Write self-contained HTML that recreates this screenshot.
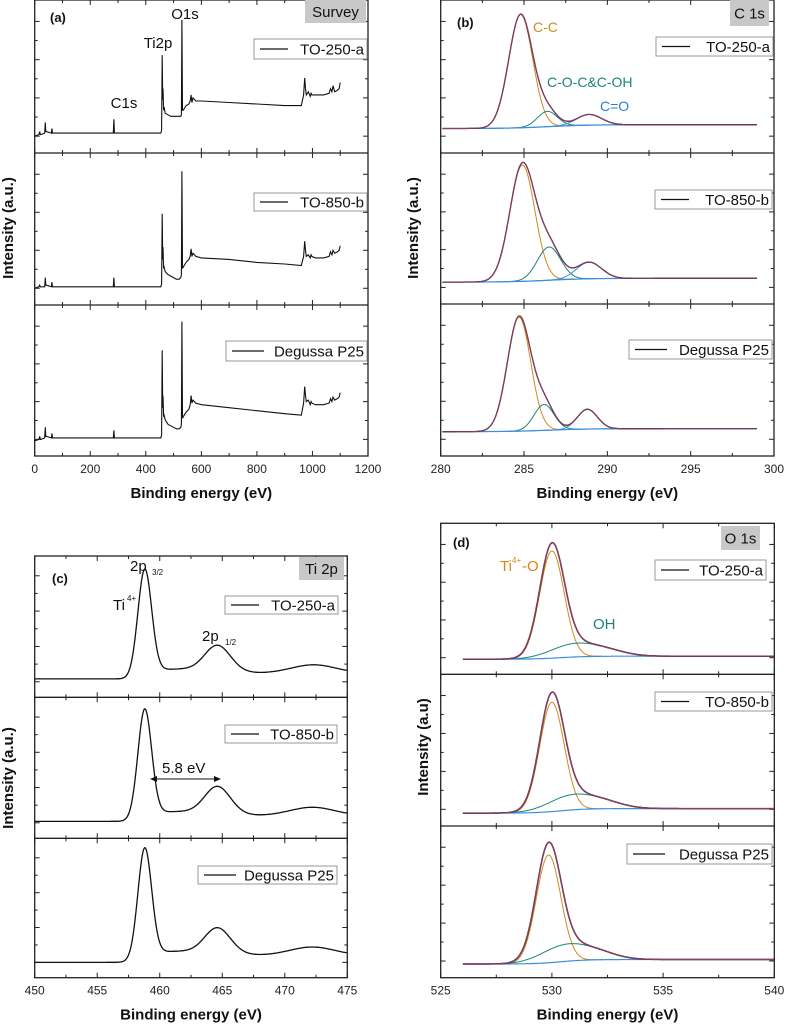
<!DOCTYPE html>
<html><head><meta charset="utf-8"><style>
html,body{margin:0;padding:0;background:#fff;}
svg{display:block;font-family:"Liberation Sans",Arial,sans-serif;}
</style></head><body>
<svg id="fig" width="785" height="1024" viewBox="0 0 785 1024" xmlns="http://www.w3.org/2000/svg"></svg>
<script>
const samples = ["TO-250-a", "TO-850-b", "Degussa P25"];

// (a) survey: energies and intensities (0-100 of sub-panel height)
const surveyE = [0,15,18,20,22,36,38,40,42,60,62,64,66,100,200,280,283,285,287,300,400,454,457,459,461,462,464,466,470,480,490,500,510,520,526,528,530,532,535,545,555,560,563,566,570,575,580,600,700,800,900,960,968,972,975,978,985,992,995,998,1010,1040,1060,1065,1070,1074,1080,1090,1096,1100];
const surveyI1 = [11,12,14,12,12,13,20,14,14,13,16,13,13,13,13,13,13,22,13,13,13,13,15,64,35,42,28,30,26,25,24,24,24,24,24,25,87,28,28,31,32,34,38,33,36,35,34,34,33,32,31,31,38,49,42,38,40,37,39,38,38,38,39,42,40,44,40,41,42,46];
const surveyI2 = [11,12,13,12,12,12,18,13,13,12,15,12,12,12,12,12,12,18,12,12,12,12,14,60,30,38,24,25,22,20,19,18,17,17,18,20,88,24,25,28,30,32,37,32,34,33,32,31,30,28,27,26,32,42,36,32,33,31,33,32,31,31,32,35,33,36,34,35,36,39];
const surveyI3 = [10,11,13,11,11,12,19,13,13,12,15,12,12,12,12,12,12,17,12,12,12,12,14,70,32,40,26,27,24,21,20,19,18,18,19,21,89,25,26,29,31,34,40,35,37,36,35,34,32,30,28,27,35,46,40,36,37,34,36,35,34,34,35,38,36,39,37,38,39,42];

// (b) C 1s fitted components per sample
const ccCenter = [284.8, 284.9, 284.7];
const ccHeight = [74, 77, 75];
const ccSigma = [0.72, 0.75, 0.7];
const coCenter = [286.4, 286.5, 286.2];
const coHeight = [10, 22, 17];
const coSigma = [0.6, 0.7, 0.6];
const c2oCenter = [288.9, 288.9, 288.8];
const c2oHeight = [7, 11, 13];
const c2oSigma = [0.75, 0.75, 0.6];
const c1sBgLeft = [16, 14.5, 16];
const c1sBgRight = [18.5, 17, 18];

// (c) Ti 2p peaks per sample
const ti32Center = [458.8, 458.8, 458.8];
const ti32Height = [75, 77, 79];
const ti12Center = [464.6, 464.6, 464.6];
const ti12Height = [17, 18, 17];
const tiSatCenter = [472.3, 472.2, 472.2];
const tiSatHeight = [6, 6, 6];
const tiBgLeft = [13, 12, 11];
const tiBgRight = [20, 19, 19];

// (d) O 1s components per sample
const tioCenter = [530.0, 530.0, 529.85];
const tioHeight = [71, 72, 71];
const ohCenter = [530.9, 530.8, 530.5];
const ohHeight = [8, 9, 10];
const o1sBgLeft = [10, 8.5, 9];
const o1sBgRight = [12, 11.5, 12];

const svg = document.getElementById('fig');
const NS = 'http://www.w3.org/2000/svg';
function mk(tag, attrs, parent){
  const e = document.createElementNS(NS, tag);
  for (const k in attrs) e.setAttribute(k, attrs[k]);
  (parent||svg).appendChild(e);
  return e;
}
function txt(s, x, y, size, opts, parent){
  const t = mk('text', Object.assign({x:x, y:y, 'font-size':size}, opts||{}), parent);
  t.textContent = s;
  return t;
}
function g(x,c,h,s){ return h*Math.exp(-(x-c)*(x-c)/(2*s*s)); }
function step(x,c,w){ return 1/(1+Math.exp(-(x-c)/w)); }

const panels = {
  a:{x0:34.7,x1:368,ys:[0,153,305,456],xmin:0,xmax:1200,major:200,minor:100,labels:[0,200,400,600,800,1000,1200]},
  b:{x0:440.7,x1:774,ys:[0,153,304,456],xmin:280,xmax:300,major:5,minor:2.5,labels:[280,285,290,295,300]},
  c:{x0:34.7,x1:347.3,ys:[556,697.3,838.3,977.7],xmin:450,xmax:475,major:5,minor:2.5,labels:[450,455,460,465,470,475]},
  d:{x0:440.7,x1:774.3,ys:[523.3,674.3,826,977.7],xmin:525,xmax:540,major:5,minor:2.5,labels:[525,530,535,540]}
};
function X(p,v){ return p.x0 + (v-p.xmin)/(p.xmax-p.xmin)*(p.x1-p.x0); }
function Y(p,i,v){ const t=p.ys[i], b=p.ys[i+1]; return b - v/100*(b-t); }

function drawFrame(key, p){
  const grp = mk('g', {});
  
  
  mk('rect',{x:p.x0,y:p.ys[0],width:p.x1-p.x0,height:p.ys[3]-p.ys[0],fill:'none',stroke:'#222','stroke-width':1.3},grp);
  for (let i=1;i<3;i++) mk('line',{x1:p.x0,x2:p.x1,y1:p.ys[i],y2:p.ys[i],stroke:'#222','stroke-width':1.3},grp);
  for (let i=0;i<3;i++){
    const t=p.ys[i], b=p.ys[i+1];
    for (let v=p.xmin; v<=p.xmax+1e-9; v+=p.minor){
      const isMaj = Math.abs(v/p.major - Math.round(v/p.major))<1e-6;
      const L = isMaj?5:3, x=X(p,v);
      mk('line',{x1:x,x2:x,y1:b,y2:b-L,stroke:'#222','stroke-width':1},grp);
      mk('line',{x1:x,x2:x,y1:t,y2:t+L,stroke:'#222','stroke-width':1},grp);
    }
    for (let k=1;k<8;k++){
      const y = b - (k*0.125 - 0.015)*(b-t);
      const L = (k%2)?5:3;
      mk('line',{x1:p.x0,x2:p.x0+L,y1:y,y2:y,stroke:'#222','stroke-width':1},grp);
      mk('line',{x1:p.x1,x2:p.x1-L,y1:y,y2:y,stroke:'#222','stroke-width':1},grp);
    }
  }
  p.labels.forEach(v=>{
    const t = txt(String(v), X(p,v), p.ys[3]+17, 12, {'text-anchor':'middle',fill:'#222'}, grp);
    
    
  });
  const xt = txt('Binding energy (eV)', (p.x0+p.x1)/2, p.ys[3]+42, 15, {'text-anchor':'middle','font-weight':'bold',fill:'#111'});
  
  
}
function pathFrom(pts, attrs, name){
  const d = pts.map((q,i)=>(i?'L':'M')+q[0].toFixed(1)+' '+q[1].toFixed(1)).join('');
  const e = mk('path', Object.assign({d:d, fill:'none'}, attrs));
  
  
  return e;
}
function legend(key, i, x0, x1, y0, y1){
  const grp = mk('g', {});
  
  
  mk('rect',{x:x0,y:y0,width:x1-x0,height:y1-y0,fill:'#fff',stroke:'#999','stroke-width':1},grp);
  const cy=(y0+y1)/2;
  const w = samples[i]==='Degussa P25'?32:28;
  mk('line',{x1:x0+6,x2:x0+6+w,y1:cy,y2:cy,stroke:'#111','stroke-width':1.2},grp);
  txt(samples[i], x1-3, cy+5.5, 15, {'text-anchor':'end',fill:'#111'}, grp);
}
function greyBox(key, s, x0,y0,x1,y1){
  const grp = mk('g', {});
  
  
  mk('rect',{x:x0,y:y0,width:x1-x0,height:y1-y0,fill:'#c8c8c8'},grp);
  txt(s,(x0+x1)/2,(y0+y1)/2+5.5,15,{'text-anchor':'middle',fill:'#111'},grp);
}
function ylab(s,x,y){
  const t = txt(s,x,y,15,{'text-anchor':'middle','font-weight':'bold',fill:'#111',transform:'rotate(-90 '+x+' '+y+')'});
  
  
}

// ---------- (a) ----------
(function(){
  const p=panels.a; drawFrame('a',p);
  [surveyI1,surveyI2,surveyI3].forEach((arr,i)=>{
    pathFrom(surveyE.map((e,k)=>[X(p,e),Y(p,i,arr[k])]),{stroke:'#111','stroke-width':1.1},'survey-line-'+(i+1));
  });
  legend('a',0,254,367,39,59); legend('a',1,254,367,193,211); legend('a',2,226,367,341,361);
  greyBox('a','Survey',305,0,366,23);
  txt('(a)',50,22,13,{'font-weight':'bold',fill:'#111'});
  txt('O1s',185,19,15,{'text-anchor':'middle',fill:'#111'});
  txt('Ti2p',158,48,15,{'text-anchor':'middle',fill:'#111'});
  txt('C1s',124,108,15,{'text-anchor':'middle',fill:'#111'});
  ylab('Intensity (a.u.)',13,228);
})();

// ---------- (b) ----------
(function(){
  const p=panels.b; drawFrame('b',p);
  for (let i=0;i<3;i++){
    const bg=x=>c1sBgLeft[i]+(c1sBgRight[i]-c1sBgLeft[i])*step(x,286.5,1.2);
    const xs=[]; for(let x=280.1;x<=299.0;x+=0.04) xs.push(x);
    const cc=x=>g(x,ccCenter[i],ccHeight[i],ccSigma[i]);
    const co=x=>g(x,coCenter[i],coHeight[i],coSigma[i]);
    const c2=x=>g(x,c2oCenter[i],c2oHeight[i],c2oSigma[i]);
    pathFrom(xs.filter(x=>x>282.5&&x<288).map(x=>[X(p,x),Y(p,i,bg(x)+cc(x))]),{stroke:'#d4881c','stroke-width':1},'cc-component-'+(i+1));
    pathFrom(xs.filter(x=>x>284&&x<289).map(x=>[X(p,x),Y(p,i,bg(x)+co(x))]),{stroke:'#1b8579','stroke-width':1},'coc-component-'+(i+1));
    pathFrom(xs.filter(x=>x>286.5&&x<291.5).map(x=>[X(p,x),Y(p,i,bg(x)+c2(x))]),{stroke:'#3a8fdf','stroke-width':1},'co-component-'+(i+1));
    pathFrom(xs.map(x=>[X(p,x),Y(p,i,bg(x))]),{stroke:'#3a8fdf','stroke-width':1.3},'background-'+(i+1));
    pathFrom(xs.map(x=>[X(p,x),Y(p,i,bg(x)+cc(x)+co(x)+c2(x))]),{stroke:'#222','stroke-width':1.3},'data-'+(i+1));
    pathFrom(xs.map(x=>[X(p,x),Y(p,i,bg(x)+cc(x)+co(x)+c2(x))]),{stroke:'#8e3d66','stroke-width':1},'envelope-'+(i+1));
  }
  legend('b',0,656,773,37,56); legend('b',1,655,772,190,209); legend('b',2,629,772,340,359);
  greyBox('b','C 1s',730,0,769,26);
  txt('(b)',457,27,13,{'font-weight':'bold',fill:'#111'});
  txt('C-C',533,32,14,{fill:'#d4881c'});
  txt('C-O-C&C-OH',547,87,14,{fill:'#1b8579'});
  txt('C=O',600,111,14,{fill:'#2f7fd6'});
  ylab('Intensity (a.u.)',418,228);
})();

// ---------- (c) ----------
(function(){
  const p=panels.c; drawFrame('c',p);
  for (let i=0;i<3;i++){
    const xs=[]; for(let x=450;x<=475;x+=0.04) xs.push(x);
    const f=x=>tiBgLeft[i]+(tiBgRight[i]-tiBgLeft[i])*step(x,459,0.5)
      +g(x,ti32Center[i],ti32Height[i],0.55)+g(x,ti12Center[i],ti12Height[i],1.0)+g(x,tiSatCenter[i],tiSatHeight[i],1.8)
      -3*step(x,466.5,0.6)+3*step(x,470,1.0)*0;
    pathFrom(xs.map(x=>[X(p,x),Y(p,i,f(x))]),{stroke:'#111','stroke-width':1.3},'ti2p-line-'+(i+1));
  }
  legend('c',0,225,338,596,614); legend('c',1,225,337,725,743); legend('c',2,198,337,866,884);
  greyBox('c','Ti 2p',299,557,344,580);
  txt('(c)',52,583,13,{'font-weight':'bold',fill:'#111'});
  txt('2p',130,571,15,{fill:'#111'});
  txt('3/2',152,575,8,{fill:'#111'});
  txt('Ti',113,610,15,{fill:'#111'});
  txt('4+',127,601,8,{fill:'#111'});
  txt('2p',202,641,15,{fill:'#111'});
  txt('1/2',225,645,8,{fill:'#111'});
  txt('5.8 eV',162,773,15,{fill:'#111'});
  const ar = mk('g',{});  
  mk('line',{x1:153,x2:218,y1:779,y2:779,stroke:'#111','stroke-width':1},ar);
  mk('path',{d:'M150 779 L157 776 L157 782 Z',fill:'#111'},ar);
  mk('path',{d:'M221 779 L214 776 L214 782 Z',fill:'#111'},ar);
  ylab('Intensity (a.u.)',13,778);
})();

// ---------- (d) ----------
(function(){
  const p=panels.d; drawFrame('d',p);
  for (let i=0;i<3;i++){
    const xs=[]; for(let x=526;x<=540;x+=0.03) xs.push(x);
    const bg=x=>o1sBgLeft[i]+(o1sBgRight[i]-o1sBgLeft[i])*step(x,530.4,0.6);
    const ti=x=>g(x,tioCenter[i],tioHeight[i],0.55);
    const oh=x=>g(x,ohCenter[i],ohHeight[i],1.0)+0.45*g(x,ohCenter[i]+1.5,ohHeight[i],0.9);
    pathFrom(xs.filter(x=>x>528&&x<532.3).map(x=>[X(p,x),Y(p,i,bg(x)+ti(x))]),{stroke:'#d4881c','stroke-width':1},'tio-component-'+(i+1));
    pathFrom(xs.filter(x=>x>527.5&&x<535).map(x=>[X(p,x),Y(p,i,bg(x)+oh(x))]),{stroke:'#1b8579','stroke-width':1},'oh-component-'+(i+1));
    pathFrom(xs.map(x=>[X(p,x),Y(p,i,bg(x))]),{stroke:'#3a8fdf','stroke-width':1.2},'background-d-'+(i+1));
    pathFrom(xs.map(x=>[X(p,x),Y(p,i,bg(x)+ti(x)+oh(x))]),{stroke:'#222','stroke-width':1.5},'data-d-'+(i+1));
    pathFrom(xs.map(x=>[X(p,x),Y(p,i,bg(x)+ti(x)+oh(x))]),{stroke:'#8e3d66','stroke-width':1.2},'envelope-d-'+(i+1));
  }
  legend('d',0,655,766,560,580); legend('d',1,655,772,692,711); legend('d',2,627,772,844,864);
  greyBox('d','O 1s',721,526,760,550);
  txt('(d)',453,547,13,{'font-weight':'bold',fill:'#111'});
  txt('Ti',500,571,15,{fill:'#d4881c'});
  txt('4+',512,563,8,{fill:'#d4881c'});
  txt('-O',522,571,15,{fill:'#d4881c'});
  txt('OH',593,629,15,{fill:'#1b8579'});
  ylab('Intensity (a.u)',428,747);
})();
</script>
</body></html>
